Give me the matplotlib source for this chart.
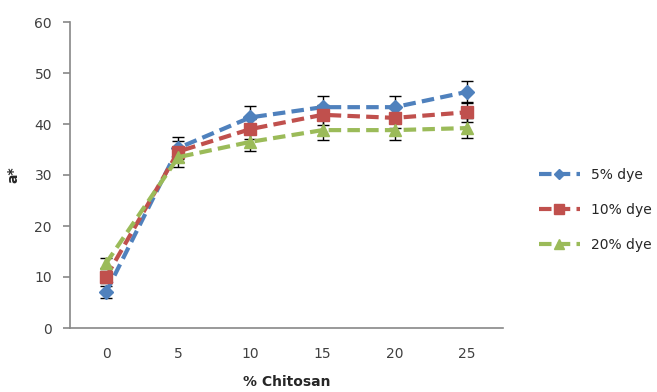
import numpy as np
import matplotlib.pyplot as plt

chitosan = ["0", "5", "10", "15", "20", "25"]

dye5 = [7.0, 35.3, 41.3, 43.3, 43.3, 46.3]
dye10 = [10.0, 34.6, 39.0, 41.8, 41.2, 42.3]
dye20 = [12.7, 33.5, 36.5, 38.8, 38.8, 39.2]

err5 = [1.2, 2.2, 2.2, 2.2, 2.2, 2.2]
err10 = [1.2, 2.0, 2.0, 2.0, 2.0, 2.0]
err20 = [1.0, 1.9, 1.8, 2.0, 2.0, 2.0]

labels = ["5% dye", "10% dye", "20% dye"]
colors = ["#4F81BD", "#C0504D", "#9BBB59"]
markers = ["D", "s", "^"]
msizes = [7, 9, 9]

fig = plt.figure(figsize=(6.57, 3.92), dpi=100)
ax = fig.add_axes([70/657, 1-328/392, 433/657, 306/392])

x = np.arange(len(chitosan))
for y, e, lab, c, m, ms in zip([dye5, dye10, dye20], [err5, err10, err20],
                               labels, colors, markers, msizes):
    ax.errorbar(x, y, yerr=e, fmt="none", ecolor="black", elinewidth=1.0,
                capsize=4, capthick=1.0, zorder=2)
    ax.plot(x, y, color=c, lw=3, ls=(0, (3, 1.5)), marker=m, ms=ms,
            mec=c, mfc=c, label=lab, zorder=3)

ax.set_xlim(-0.5, 5.5)
ax.set_ylim(0, 60)
ax.set_yticks(range(0, 61, 10))
ax.set_xticks(x)
ax.set_xticklabels(chitosan)

for s in ["top", "right"]:
    ax.spines[s].set_visible(False)
for s in ["left", "bottom"]:
    ax.spines[s].set_color("#888888")
    ax.spines[s].set_linewidth(1.2)

ax.tick_params(axis="y", length=5, color="#888888", width=1.2,
               labelsize=10, labelcolor="#404040", pad=8)
ax.tick_params(axis="x", length=0, labelsize=10, labelcolor="#404040", pad=14)

ax.set_xlabel("% Chitosan", fontsize=10, fontweight="bold", color="#262626",
              labelpad=10)
ax.set_ylabel("a*", fontsize=10, fontweight="bold", color="#262626",
              labelpad=10)

fig.legend(loc="center left", bbox_to_anchor=(526/657, 1-210/392),
           frameon=False, fontsize=10, handlelength=3, labelspacing=1.5,
           markerscale=0.8, labelcolor="#262626")

fig.savefig("out.png", dpi=100)
